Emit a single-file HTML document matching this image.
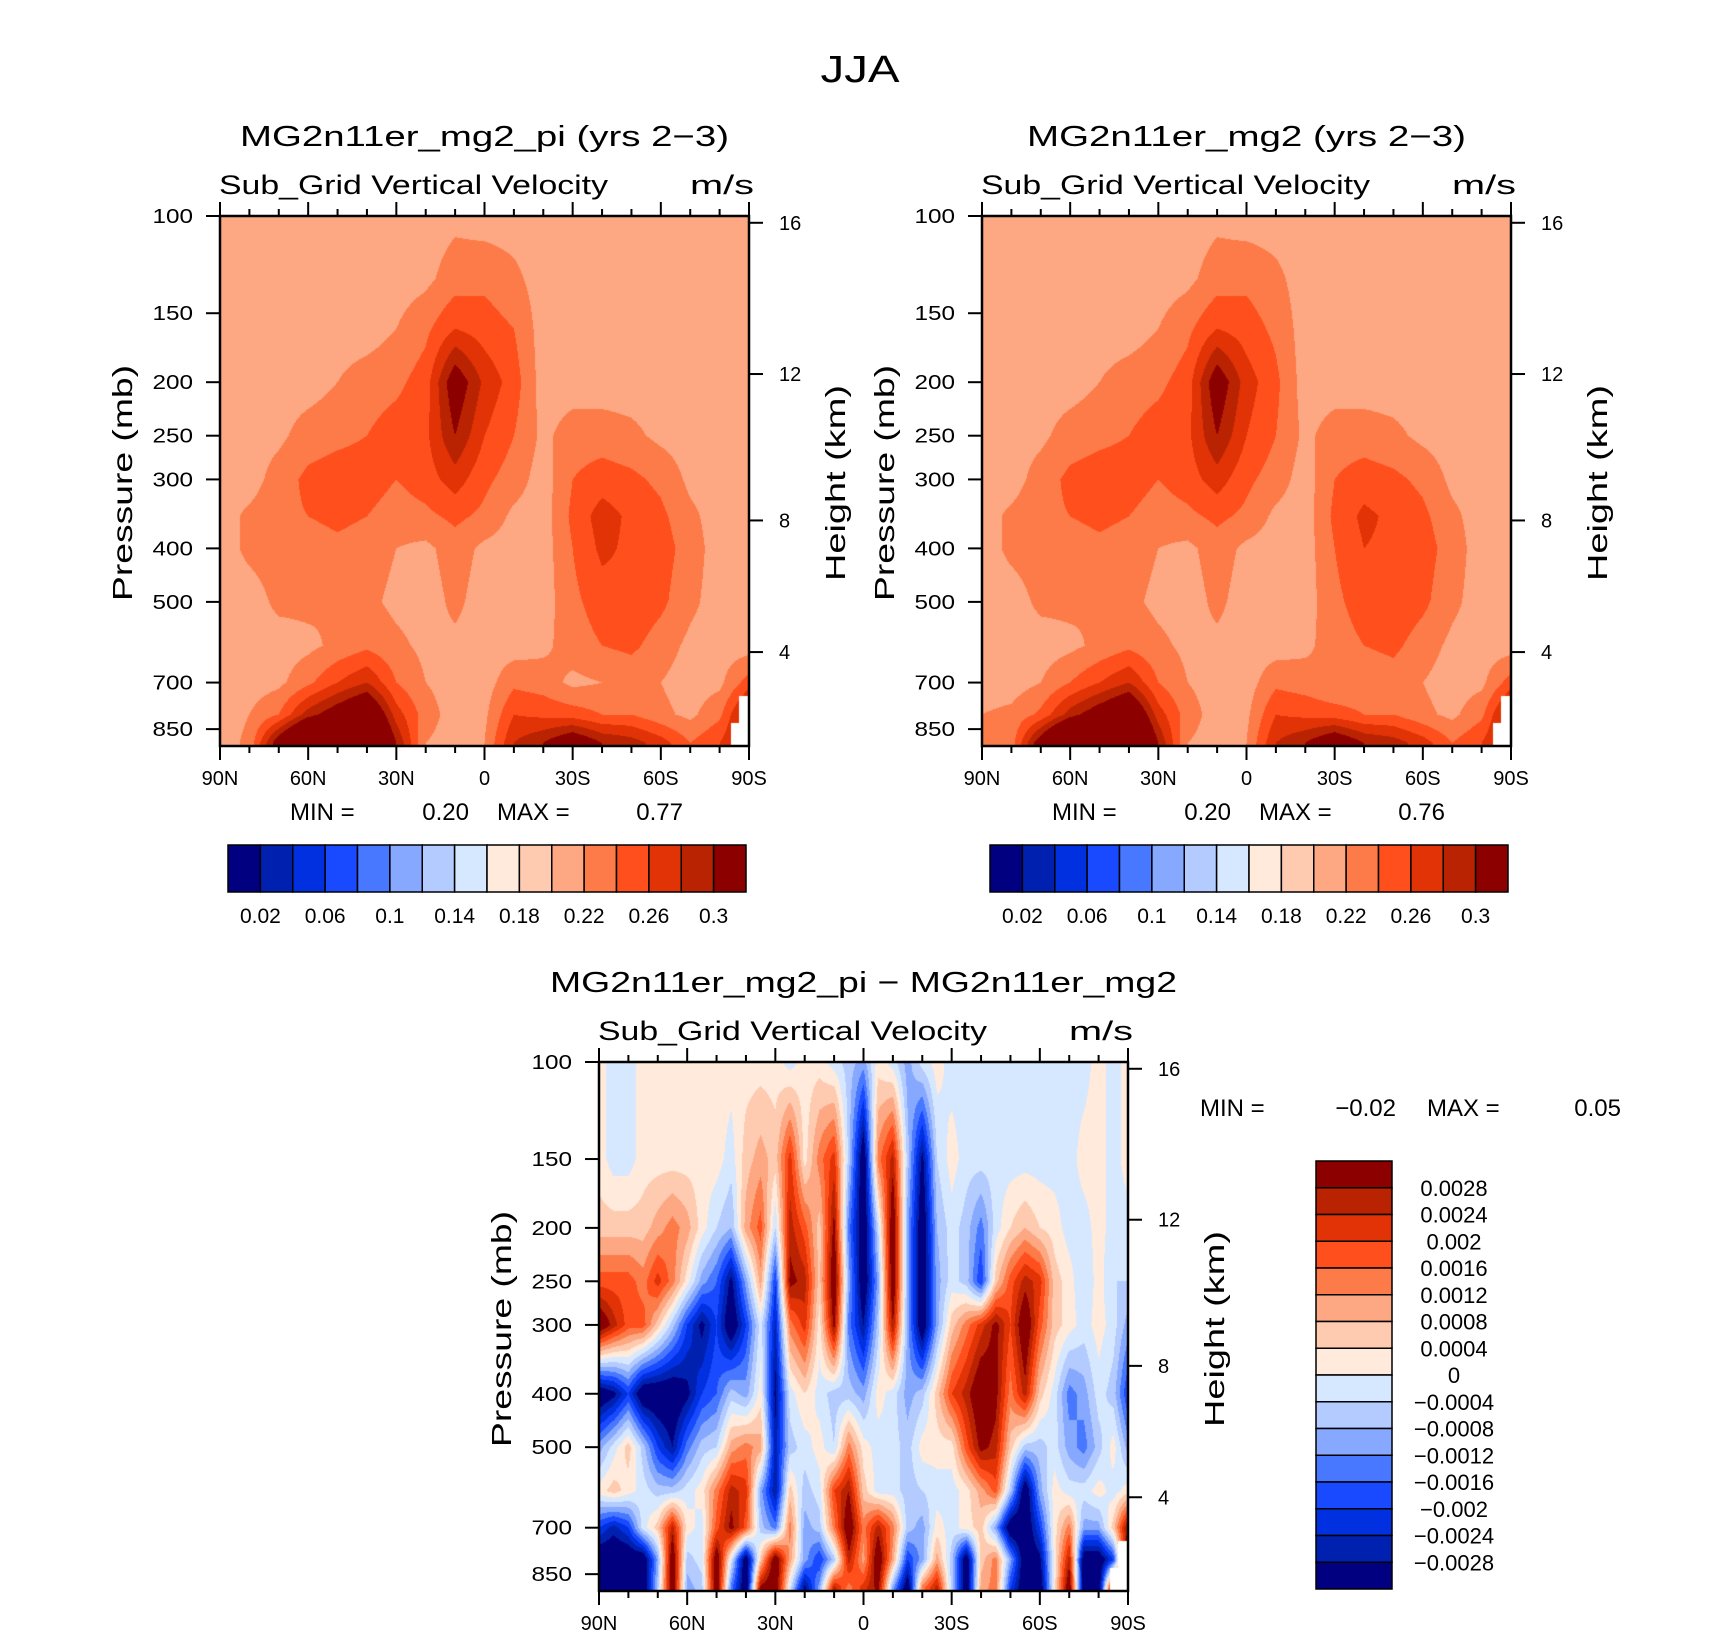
<!DOCTYPE html>
<html><head><meta charset="utf-8"><style>
html,body{margin:0;padding:0;background:#fff;}
#wrap{position:relative;width:1710px;height:1639px;overflow:hidden;}
canvas{position:absolute;}
svg{position:absolute;left:0;top:0;}
text{font-family:"Liberation Sans",sans-serif;fill:#000;}
</style></head><body>
<div id="wrap">
<canvas id="c1"></canvas>
<canvas id="c2"></canvas>
<canvas id="c3"></canvas>
<svg id="ov" width="1710" height="1639"></svg>
</div>
<script>
// ---------- data ----------
const colors = ['#000080','#0020b0','#0030e0','#1a4aff','#4878ff','#86a8ff','#b4cbff','#d6e8ff','#ffeadb','#fecab0','#fda883','#fd7b49','#ff4f1d','#e13305','#b92302','#8c0000'];
const levelsAbs = [0.02,0.04,0.06,0.08,0.10,0.12,0.14,0.16,0.18,0.20,0.22,0.24,0.26,0.28,0.30];
const levelsDiff = [-28,-24,-20,-16,-12,-8,-4,0,4,8,12,16,20,24,28]; // units 1e-4
const absBarLabels = ['0.02','0.06','0.1','0.14','0.18','0.22','0.26','0.3'];
const diffBarLabels = ['0.0028','0.0024','0.002','0.0016','0.0012','0.0008','0.0004','0','\u22120.0004','\u22120.0008','\u22120.0012','\u22120.0016','\u22120.002','\u22120.0024','\u22120.0028'];
const xTickLabels = ['90N','60N','30N','0','30S','60S','90S'];
const pTicks = [100,150,200,250,300,400,500,700,850];
const zTicks = [4,8,12,16];

const latsA = [90,80,70,60,50,40,30,20,10,0,-10,-20,-30,-40,-50,-60,-70,-80,-90];
const presA = [100,130,160,200,250,300,350,400,500,600,700,800,900];
const fieldA = [
 [.21,.21,.21,.21,.21,.21,.21,.21,.21,.21,.21,.21,.21],
 [.21,.21,.21,.21,.21,.21,.225,.225,.21,.21,.21,.22,.225],
 [.21,.21,.21,.21,.215,.23,.235,.23,.225,.21,.215,.24,.32],
 [.21,.21,.21,.21,.23,.245,.24,.23,.225,.215,.235,.29,.40],
 [.21,.21,.21,.22,.235,.25,.245,.235,.22,.225,.26,.32,.45],
 [.21,.21,.21,.23,.24,.25,.24,.23,.225,.235,.28,.35,.40],
 [.21,.21,.22,.235,.25,.24,.23,.22,.215,.225,.24,.27,.30],
 [.21,.215,.235,.25,.255,.25,.235,.215,.21,.215,.22,.23,.22],
 [.215,.23,.26,.32,.30,.27,.245,.23,.225,.215,.21,.21,.21],
 [.21,.235,.25,.275,.26,.245,.235,.215,.21,.21,.21,.215,.22],
 [.21,.225,.24,.25,.24,.23,.215,.21,.21,.21,.235,.26,.28],
 [.21,.21,.21,.21,.215,.21,.21,.21,.21,.215,.23,.255,.30],
 [.21,.21,.21,.21,.23,.24,.245,.24,.235,.23,.215,.25,.33],
 [.21,.21,.21,.21,.23,.25,.27,.265,.25,.24,.22,.24,.30],
 [.21,.21,.21,.21,.225,.245,.255,.255,.255,.245,.225,.24,.29],
 [.21,.21,.21,.21,.215,.235,.245,.25,.245,.23,.22,.225,.27],
 [.21,.21,.21,.21,.21,.215,.225,.23,.225,.215,.21,.215,.24],
 [.21,.21,.21,.21,.21,.21,.21,.21,.21,.21,.215,.235,.26],
 [.21,.21,.21,.21,.21,.21,.21,.21,.21,.21,.25,.30,.30]
];
const fieldB = [
 [.21,.21,.21,.21,.21,.21,.21,.21,.21,.21,.21,.22,.23],
 [.21,.21,.21,.21,.21,.21,.225,.225,.21,.21,.21,.225,.23],
 [.21,.21,.21,.21,.215,.23,.235,.23,.225,.21,.22,.245,.32],
 [.21,.21,.21,.21,.23,.245,.24,.23,.225,.215,.24,.29,.40],
 [.21,.21,.21,.22,.235,.25,.245,.235,.22,.225,.26,.32,.45],
 [.21,.21,.21,.23,.24,.25,.24,.23,.225,.235,.28,.35,.40],
 [.21,.21,.22,.235,.25,.24,.23,.22,.215,.225,.24,.27,.30],
 [.21,.215,.235,.25,.255,.25,.235,.215,.21,.215,.22,.23,.22],
 [.215,.23,.26,.32,.30,.27,.245,.23,.225,.215,.21,.21,.21],
 [.21,.235,.25,.27,.26,.245,.235,.215,.21,.21,.21,.215,.22],
 [.21,.225,.235,.245,.24,.23,.215,.21,.21,.21,.235,.26,.28],
 [.21,.21,.21,.21,.215,.21,.21,.21,.21,.215,.23,.255,.30],
 [.21,.21,.21,.21,.23,.24,.245,.24,.235,.23,.22,.25,.33],
 [.21,.21,.21,.21,.23,.25,.265,.26,.25,.24,.225,.24,.30],
 [.21,.21,.21,.21,.225,.245,.255,.255,.255,.245,.23,.24,.29],
 [.21,.21,.21,.21,.215,.235,.245,.25,.245,.23,.22,.225,.27],
 [.21,.21,.21,.21,.21,.215,.225,.23,.225,.215,.21,.215,.24],
 [.21,.21,.21,.21,.21,.21,.21,.21,.21,.21,.215,.235,.26],
 [.21,.21,.21,.21,.21,.21,.21,.21,.21,.21,.25,.30,.30]
];

const latsD = [90,85,80,75,70,65,60,55,50,45,40,35,30,25,20,15,10,5,0,-5,-10,-15,-20,-25,-30,-35,-40,-45,-50,-55,-60,-65,-70,-75,-80,-85,-90];
const presD = [100,150,200,250,300,400,500,600,700,800,900];
const diff100 = [2,-2,-2,2,2,2,2,2,2,2,2,2,2,-2,2,2,-2,-6,-10,2,-2,-10,-2,2,-2,-2,-2,-2,-2,-2,-2,-2,-2,-2,2,-2,2];
const diff150 = [2,-2,-2,2,2,2,2,2,2,-2,6,10,6,22,2,14,22,-6,-35,14,26,-6,-30,-4,2,-2,-2,-2,-2,-2,-2,-2,-2,2,2,-2,2];
const diff200 = [6,6,6,6,10,14,10,2,-4,-8,10,18,-4,26,18,6,30,-14,-35,-4,35,-10,-35,-8,-2,-6,-14,-2,4,8,4,2,-2,-2,2,-2,-2];
const diff250 = [18,18,18,14,22,14,2,-10,-16,-30,-10,10,-20,30,26,6,35,-10,-35,-10,35,-10,-35,-10,-2,-6,-20,6,18,26,22,6,2,-4,2,-4,-4];
const diff300 = [35,26,18,18,6,-6,-20,-30,-20,-35,-20,-2,-25,14,22,2,30,-14,-28,-6,28,-10,-35,-10,6,14,22,30,20,35,18,6,2,-2,2,-2,-10];
const diff400 = [-35,-30,-20,-35,-35,-35,-30,-20,-16,-6,-10,2,-30,-2,4,-2,-6,-6,-10,2,-2,-10,-6,6,20,26,35,30,14,26,6,-2,-14,-10,-2,-6,-20];
const diff500 = [-10,-2,6,-6,-20,-28,-14,-6,-4,10,14,10,-26,-6,-2,2,-4,14,2,-2,-2,-6,2,2,2,18,30,26,6,-6,-6,-2,-10,-14,-6,2,-10];
const diff600 = [2,6,2,-2,-6,-6,-2,2,14,26,22,-10,-28,6,-6,-2,20,28,6,-2,-2,-6,-4,-2,-2,2,10,18,-6,-35,-10,2,-2,-2,2,-2,2];
const diff700 = [-20,-26,-20,-2,6,26,2,-2,18,30,18,-6,-14,14,-10,-6,14,35,14,26,14,-6,-10,2,-2,2,6,-10,-35,-35,-20,2,14,-10,-10,6,30];
const diff800 = [-35,-35,-35,-35,-10,35,-6,-2,35,-2,-35,6,35,10,-10,-20,-6,26,10,35,10,-20,-10,10,-6,-35,6,14,-10,-35,-30,2,26,-35,-35,-20,35];
const diff900 = [-35,-35,-35,-35,-6,35,-10,-6,35,-14,-35,30,35,-2,-30,-10,26,14,22,30,-10,-35,14,26,-6,-35,10,14,-20,-35,-35,2,35,-35,-35,35,35];
const fieldDRows = [diff100,diff150,diff200,diff250,diff300,diff400,diff500,diff600,diff700,diff800,diff900];

// ---------- geometry / axis functions ----------
const P_TOP = 100, P_BOT = 912;
const plots = [
 {id:'c1', name:'mg2-pi', x0:220, y0:216, w:529, h:530},
 {id:'c2', name:'mg2', x0:982, y0:216, w:529, h:530},
 {id:'c3', name:'difference', x0:599, y0:1062, w:529, h:529}
];
function xOfLat(pl, lat){ return pl.x0 + (90 - lat)/180*pl.w; }
function yOfP(pl, p){ return pl.y0 + Math.log(p/P_TOP)/Math.log(P_BOT/P_TOP)*pl.h; }
function latOfX(pl, x){ return 90 - (x - pl.x0)/pl.w*180; }
function pOfY(pl, y){ return P_TOP*Math.exp((y - pl.y0)/pl.h*Math.log(P_BOT/P_TOP)); }
function pOfZ(km){ const z = km*1000; if (z <= 11000) return 1013.25*Math.pow(1-2.25577e-5*z, 5.25588); return 226.32*Math.exp(-(z-11000)/6341.6); }
function levelIndex(levels, v){ let i=0; while(i<levels.length && v>=levels[i]) i++; return i; }
function findSeg(arr, v, desc){
  for (let i=0;i<arr.length-1;i++){
    const a=arr[i], b=arr[i+1];
    if ((v>=Math.min(a,b)) && (v<=Math.max(a,b))) return [i,(v-a)/(b-a)];
  }
  if (desc) return v>arr[0]?[0,0]:[arr.length-2,1];
  return v<arr[0]?[0,0]:[arr.length-2,1];
}
function hexToRgb(h){ return [parseInt(h.substr(1,2),16),parseInt(h.substr(3,2),16),parseInt(h.substr(5,2),16)]; }
const rgbColors = colors.map(hexToRgb);
function masked(lat, p){
  if (lat < -86.5 && p > 740) return true;
  if (lat < -84 && p > 830) return true;
  return false;
}

function renderField(pl, lats, pres, getVal, levels){
  const cv = document.getElementById(pl.id);
  cv.width = pl.w; cv.height = pl.h;
  cv.style.left = pl.x0+'px'; cv.style.top = pl.y0+'px';
  const ctx = cv.getContext('2d');
  const img = ctx.createImageData(pl.w, pl.h);
  const lnp = pres.map(p=>Math.log(p));
  for (let py=0; py<pl.h; py++){
    const p = pOfY(pl, pl.y0+py+0.5);
    const [ri, rt] = findSeg(lnp, Math.log(p), false);
    for (let px=0; px<pl.w; px++){
      const idx = (py*pl.w+px)*4;
      const lat = latOfX(pl, pl.x0+px+0.5);
      if (masked(lat,p)) { img.data[idx+3]=0; continue; }
      const [ci, ct] = findSeg(lats, lat, true);
      const v00=getVal(ci,ri), v01=getVal(ci+1,ri), v10=getVal(ci,ri+1), v11=getVal(ci+1,ri+1);
      const v = (v00*(1-ct)+v01*ct)*(1-rt) + (v10*(1-ct)+v11*ct)*rt;
      const c = rgbColors[levelIndex(levels, v)];
      img.data[idx]=c[0]; img.data[idx+1]=c[1]; img.data[idx+2]=c[2]; img.data[idx+3]=255;
    }
  }
  ctx.putImageData(img,0,0);
}
renderField(plots[0], latsA, presA, (c,r)=>fieldA[c][r], levelsAbs);
renderField(plots[1], latsA, presA, (c,r)=>fieldB[c][r], levelsAbs);
renderField(plots[2], latsD, presD, (c,r)=>fieldDRows[r][c], levelsDiff);

// ---------- SVG overlay ----------
const NS='http://www.w3.org/2000/svg';
const svg=document.getElementById('ov');
function mk(tag, attrs, parent){
  const e=document.createElementNS(NS,tag);
  for (const k in attrs) e.setAttribute(k, attrs[k]);
  (parent||svg).appendChild(e); return e;
}
function txt(x,y,s,size,anchor,parent,rot,len){
  const t=mk('text',{x:x,y:y,'font-size':size,'text-anchor':anchor||'middle'},parent);
  if(len){ t.setAttribute('textLength',len); t.setAttribute('lengthAdjust','spacingAndGlyphs'); }
  if(rot) t.setAttribute('transform','rotate(-90 '+x+' '+y+')');
  t.textContent=s; return t;
}

const jja = txt(860,82,'JJA',38,'middle',null,false,79);



const titles = ['MG2n11er_mg2_pi (yrs 2\u22123)','MG2n11er_mg2 (yrs 2\u22123)','MG2n11er_mg2_pi \u2212 MG2n11er_mg2'];
const titleLens = [489,439,627];
const minmax = [['0.20','0.77'],['0.20','0.76'],['\u22120.02','0.05']];

plots.forEach((pl,k)=>{
  const g = mk('g',{});
  
  
  const x1=pl.x0+pl.w, y1=pl.y0+pl.h;
  const cx = pl.x0+pl.w/2;
  const ttl = txt(cx, pl.y0-70, titles[k], 29, 'middle', g, false, titleLens[k]);
  
  
  const st = txt(pl.x0-1, pl.y0-22, 'Sub_Grid Vertical Velocity', 27, 'start', g, false, 389);
  
  
  const un = txt(x1+5, pl.y0-22, 'm/s', 27, 'end', g, false, 64);
  
  
  const fr = mk('rect',{x:pl.x0,y:pl.y0,width:pl.w,height:pl.h,fill:'none',stroke:'#000','stroke-width':2.5},g);
  
  
  for (let lat=90; lat>=-90; lat-=10){
    const x=xOfLat(pl,lat); const major = (lat%30===0);
    const L = major?14:7;
    mk('line',{x1:x,y1:y1,x2:x,y2:y1+L,stroke:'#000','stroke-width':2},g);
    mk('line',{x1:x,y1:pl.y0,x2:x,y2:pl.y0-L,stroke:'#000','stroke-width':2},g);
  }
  xTickLabels.forEach((s,i)=>{
    const t=txt(xOfLat(pl,90-30*i), y1+39, s, 20, 'middle', g);
    
    
  });
  pTicks.forEach(p=>{
    const y=yOfP(pl,p);
    mk('line',{x1:pl.x0-14,y1:y,x2:pl.x0,y2:y,stroke:'#000','stroke-width':2},g);
    const t=txt(pl.x0-27, y+7, String(p), 20, 'end', g, false, String(p).length*13.5);
    
    
  });
  zTicks.forEach(z=>{
    const y=yOfP(pl,pOfZ(z));
    mk('line',{x1:x1,y1:y,x2:x1+14,y2:y,stroke:'#000','stroke-width':2},g);
    const t=txt(x1+30, y+7, String(z), 20, 'start', g);
    
    
  });
  const yl = txt(pl.x0-88, pl.y0+267, 'Pressure  (mb)', 28, 'middle', g, true, 236);
  
  
  const hl = txt(x1+96, pl.y0+267, 'Height  (km)', 28, 'middle', g, true, 196);
  
  
  let mx, my;
  if (k<2){ mx = pl.x0+70; my = y1+74; } else { mx = 1200; my = 1116; }
  const m1 = txt(mx, my, 'MIN  =', 24, 'start', g);
  
  
  const m2 = txt(k<2?mx+179:mx+196, my, minmax[k][0], 24, 'end', g);
  
  
  const m3 = txt(k<2?mx+207:mx+227, my, 'MAX  =', 24, 'start', g);
  
  
  const m4 = txt(k<2?mx+393:mx+421, my, minmax[k][1], 24, 'end', g);
  
  
});

[[228,845],[990,845]].forEach((pos,k)=>{
  const g=mk('g',{});
  
  
  const bw=518/16, bh=47;
  colors.forEach((c,i)=>{
    const r=mk('rect',{x:pos[0]+i*bw,y:pos[1],width:bw,height:bh,fill:c,stroke:'#000','stroke-width':1.5},g);
    
    
  });
  absBarLabels.forEach((s,i)=>{
    const t=txt(pos[0]+(1+2*i)*bw, pos[1]+78, s, 21, 'middle', g);
    
    
  });
});
(function(){
  const g=mk('g',{});
  
  
  const x=1316, y=1161, bw=76, bh=(1589-1161)/16;
  for(let i=0;i<16;i++){
    const r=mk('rect',{x:x,y:y+i*bh,width:bw,height:bh,fill:colors[15-i],stroke:'#000','stroke-width':1.5},g);
    
    
  }
  diffBarLabels.forEach((s,i)=>{
    const t=txt(1454, y+(i+1)*bh+8, s, 22, 'middle', g);
    
    
  });
})();
</script>
</body></html>
